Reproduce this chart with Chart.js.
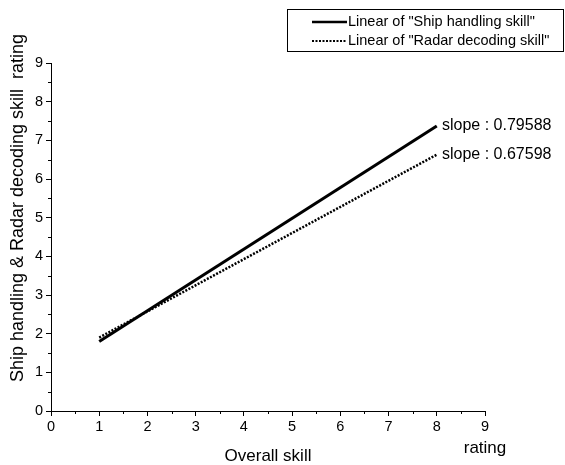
<!DOCTYPE html>
<html lang="en">
  <head>
    <meta charset="UTF-8" />
    <title>Ship handling vs Radar decoding</title>
    <script src="https://cdn.jsdelivr.net/npm/chart.js"></script>
    <style>
      body { margin: 0; background: #fff; }
      #wrap { width: 565px; height: 465px; }
    </style>
  </head>
  <body>
    <div id="wrap"><canvas id="skillChart" width="565" height="465"></canvas></div>

    <script>
      // fitted lines (endpoints at x = 1 and x = 8)
      const xValues = [1, 8];
      const shipHandling = [1.80, 7.37];
      const radarDecoding = [1.90, 6.63];
      const seriesNames = ['Linear of "Ship handling skill"', 'Linear of "Radar decoding skill"'];
      const slopeLabels = ["slope : 0.79588", "slope : 0.67598"];
      const axisMin = 0;
      const axisMax = 9;

      const FONT = "'Liberation Sans', Arial, sans-serif";

      function toPoints(ys) {
        return xValues.map((x, i) => ({ x: x, y: ys[i] }));
      }

      // legend box, minor ticks, titles and slope notes
      const extras = {
        id: "extras",
        afterDraw(chart) {
          const c = chart.ctx;
          const xs = chart.scales.x;
          const ys = chart.scales.y;
          c.save();
          c.strokeStyle = "#000";
          c.fillStyle = "#000";
          c.lineWidth = 1;

          // minor ticks at half steps
          for (let v = axisMin + 0.5; v < axisMax; v += 1) {
            const px = Math.round(xs.getPixelForValue(v)) + 0.5;
            c.beginPath();
            c.moveTo(px, ys.bottom);
            c.lineTo(px, ys.bottom + 3);
            c.stroke();
            const py = Math.round(ys.getPixelForValue(v)) + 0.5;
            c.beginPath();
            c.moveTo(xs.left, py);
            c.lineTo(xs.left - 3, py);
            c.stroke();
          }

          // axis titles
          c.font = "17px " + FONT;
          c.textAlign = "center";
          c.textBaseline = "middle";
          c.fillText("Overall skill", (xs.left + xs.right) / 2, 456);
          c.fillText("rating", xs.getPixelForValue(9), 448);
          c.save();
          c.translate(18, 208);
          c.rotate(-Math.PI / 2);
          c.font = "18px " + FONT;
          c.fillText("Ship handling & Radar decoding skill  rating", 0, 0);
          c.restore();

          // slope notes next to line ends
          c.font = "16px " + FONT;
          c.textAlign = "left";
          c.fillText(slopeLabels[0], 442, ys.getPixelForValue(shipHandling[1]));
          c.fillText(slopeLabels[1], 442, ys.getPixelForValue(radarDecoding[1]));

          // legend box
          c.strokeRect(287.5, 9.5, 276, 42);
          c.font = "14.5px " + FONT;
          c.lineWidth = 2.5;
          c.beginPath();
          c.moveTo(312, 22);
          c.lineTo(347, 22);
          c.stroke();
          c.lineWidth = 2;
          c.setLineDash([2, 1.5]);
          c.beginPath();
          c.moveTo(312, 41);
          c.lineTo(347, 41);
          c.stroke();
          c.setLineDash([]);
          c.fillText(seriesNames[0], 348, 22);
          c.fillText(seriesNames[1], 348, 41);
          c.restore();
        },
      };

      const ctx = document.getElementById("skillChart").getContext("2d");
      const skillChart = new Chart(ctx, {
        type: "scatter",
        data: {
          datasets: [
            {
              label: seriesNames[0],
              data: toPoints(shipHandling),
              showLine: true,
              borderColor: "#000",
              borderWidth: 3,
              pointRadius: 0,
            },
            {
              label: seriesNames[1],
              data: toPoints(radarDecoding),
              showLine: true,
              borderColor: "#000",
              borderWidth: 2.5,
              borderDash: [2, 1.5],
              pointRadius: 0,
            },
          ],
        },
        options: {
          responsive: false,
          animation: false,
          layout: { padding: { left: 0, right: 80, top: 63, bottom: 23 } },
          plugins: { legend: { display: false }, tooltip: { enabled: false } },
          scales: {
            x: {
              type: "linear",
              min: axisMin,
              max: axisMax,
              afterFit: (s) => { s.height = 31; },
              ticks: { stepSize: 1, color: "#000", font: { family: FONT, size: 14.5 }, padding: 2 },
              grid: { drawOnChartArea: false, drawTicks: true, tickLength: 5, color: "#000" },
              border: { color: "#000", width: 1 },
            },
            y: {
              type: "linear",
              min: axisMin,
              max: axisMax,
              afterFit: (s) => { s.width = 51; },
              ticks: { stepSize: 1, color: "#000", font: { family: FONT, size: 14.5 }, padding: 3 },
              grid: { drawOnChartArea: false, drawTicks: true, tickLength: 5, color: "#000" },
              border: { color: "#000", width: 1 },
            },
          },
        },
        plugins: [extras],
      });
    </script>
  </body>
</html>
